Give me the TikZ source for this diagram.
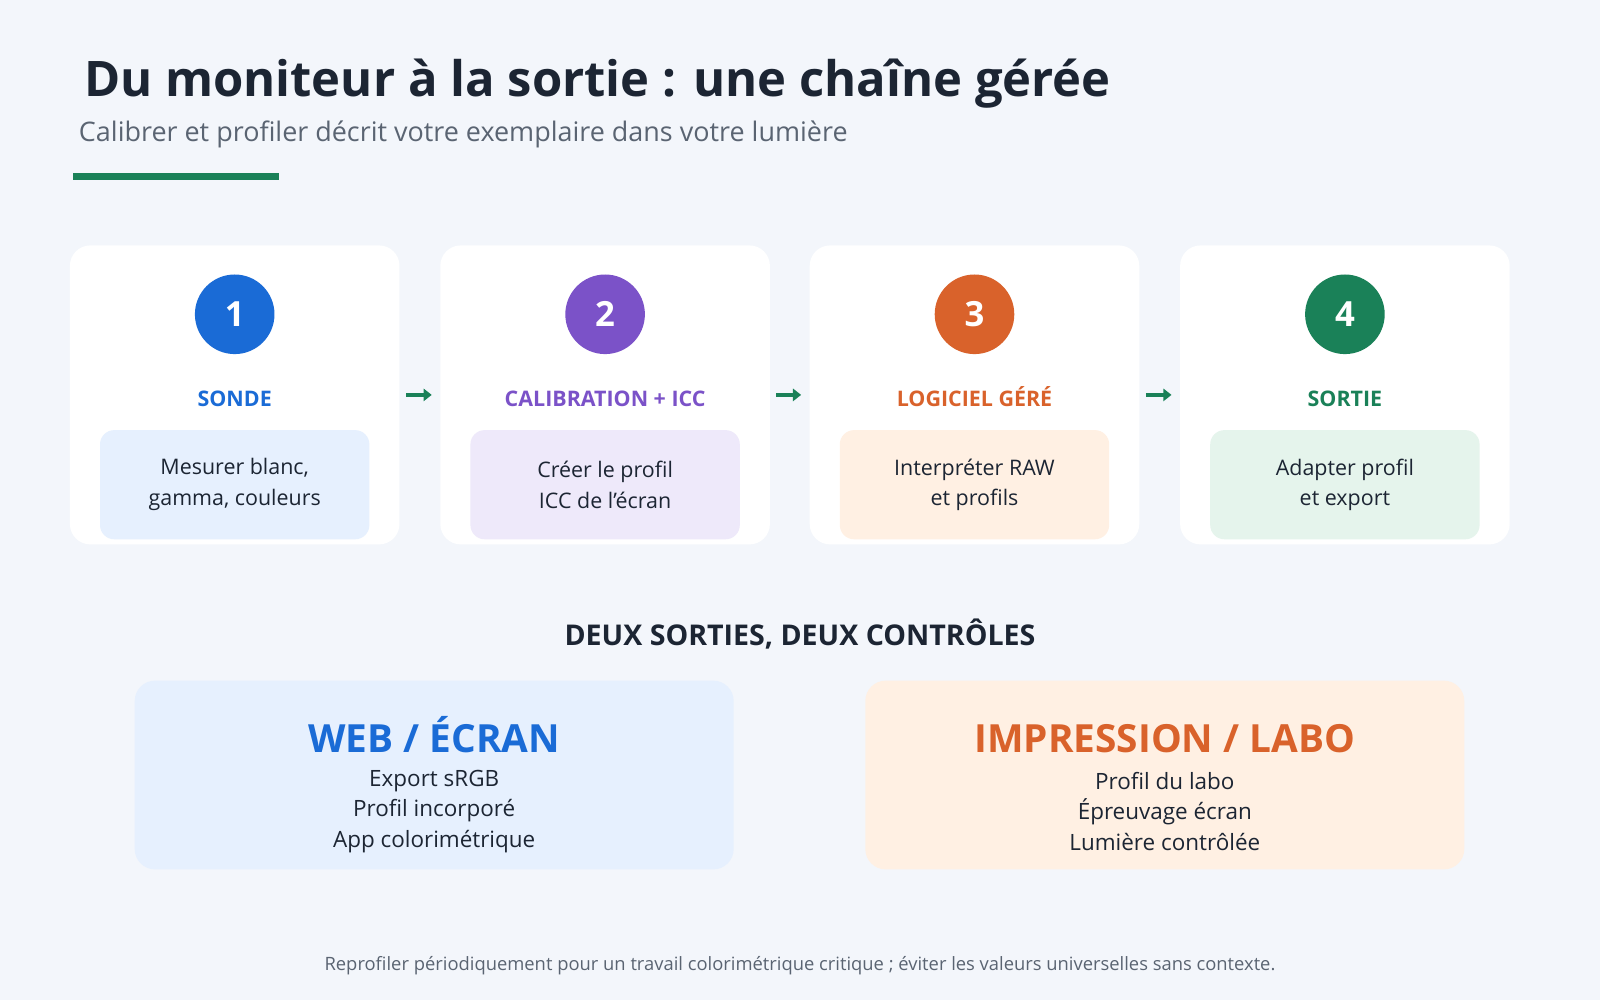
\documentclass[tikz,border=0pt]{standalone}
\usepackage{fontspec}
\setmainfont{Open Sans}
\usetikzlibrary{arrows.meta}
\definecolor{bg}{HTML}{F3F6FB}
\definecolor{ink}{HTML}{1C2533}
\definecolor{sub}{HTML}{5A6472}
\definecolor{cA}{HTML}{1A6BD6}\definecolor{lA}{HTML}{E6F0FE}
\definecolor{cB}{HTML}{7B52C8}\definecolor{lB}{HTML}{EEE9FA}
\definecolor{cC}{HTML}{D9622B}\definecolor{lC}{HTML}{FFF0E3}
\definecolor{cD}{HTML}{1A8158}\definecolor{lD}{HTML}{E5F4EC}
\tikzset{
 card/.style={fill=white,rounded corners=10pt,minimum width=161.5pt,minimum height=146.5pt,draw=none},
 inner/.style={rounded corners=7pt,minimum width=132pt,minimum height=53.5pt,align=center,text=ink,font=\fontsize{10.5}{15}\selectfont},
 num/.style={circle,minimum size=39pt,text=white,font=\fontsize{17}{17}\selectfont\bfseries},
 ttl/.style={font=\fontsize{10.5}{12}\selectfont\bfseries},
 arr/.style={draw=cD,line width=2pt,-{Triangle[length=4pt,width=6pt]},shorten <=3pt,shorten >=4pt},
 big/.style={rounded corners=10pt,minimum width=293.5pt,minimum height=92.5pt},
 bigttl/.style={anchor=base,font=\fontsize{19}{22}\selectfont\bfseries},
}
\begin{document}
\begin{tikzpicture}[x=0.5pt,y=-0.5pt]
\fill[bg] (0,0) rectangle (1568,980);
\useasboundingbox (0,0) rectangle (1568,980);
\node[anchor=base west,inner sep=0pt,text=ink,font=\fontsize{24}{28}\selectfont\bfseries] (t) at (82,95) {Du moniteur à la sortie : une chaîne gérée};
\node[anchor=base west,inner sep=0pt,text=sub,font=\fontsize{13.2}{15}\selectfont] (s) at (77,139) {Calibrer et profiler décrit votre exemplaire dans votre lumière};
\fill[cD] (72,170) rectangle (273,176);
\foreach \i/\x/\c/\l/\T/\B in {1/230/cA/lA/SONDE/{Mesurer blanc,\\gamma, couleurs},
 2/593/cB/lB/CALIBRATION + ICC/{Créer le profil\\ICC de l’écran},
 3/955/cC/lC/LOGICIEL GÉRÉ/{Interpréter RAW\\et profils},
 4/1318/cD/lD/SORTIE/{Adapter profil\\et export}}{
 \node[card] (card\i) at (\x,387) {};
 \node[num,fill=\c] (n\i) at (\x,308) {\i};
 \node[ttl,text=\c,anchor=base] (h\i) at (\x,398) {\T};
 \node[inner,fill=\l] (b\i) at (\x,475) {\B};
}
\draw[arr] (card1.east) -- (card2.west);
\draw[arr] (card2.east) -- (card3.west);
\draw[arr] (card3.east) -- (card4.west);
\node[text=ink,font=\fontsize{14}{16}\selectfont\bfseries] (d) at (784,621) {DEUX SORTIES, DEUX CONTRÔLES};
\node[big,fill=lA] (w) at (425.5,759.5) {};
\node[big,fill=lC] (p) at (1141.5,759.5) {};
\node[bigttl,text=cA] (wt) at (425.5,737) {WEB / ÉCRAN};
\node[bigttl,text=cC] (pt) at (1141.5,737) {IMPRESSION / LABO};
\node[align=center,text=ink,font=\fontsize{11}{15}\selectfont] (wl) at (425.5,795) {Export sRGB\\Profil incorporé\\App colorimétrique};
\node[align=center,text=ink,font=\fontsize{11}{15}\selectfont] (pl) at (1141.5,795) {Profil du labo\\Épreuvage écran\\Lumière contrôlée};
\node[text=sub,font=\fontsize{9}{11}\selectfont] (f) at (784,946) {Reprofiler périodiquement pour un travail colorimétrique critique ; éviter les valeurs universelles sans contexte.};
\end{tikzpicture}
\end{document}
